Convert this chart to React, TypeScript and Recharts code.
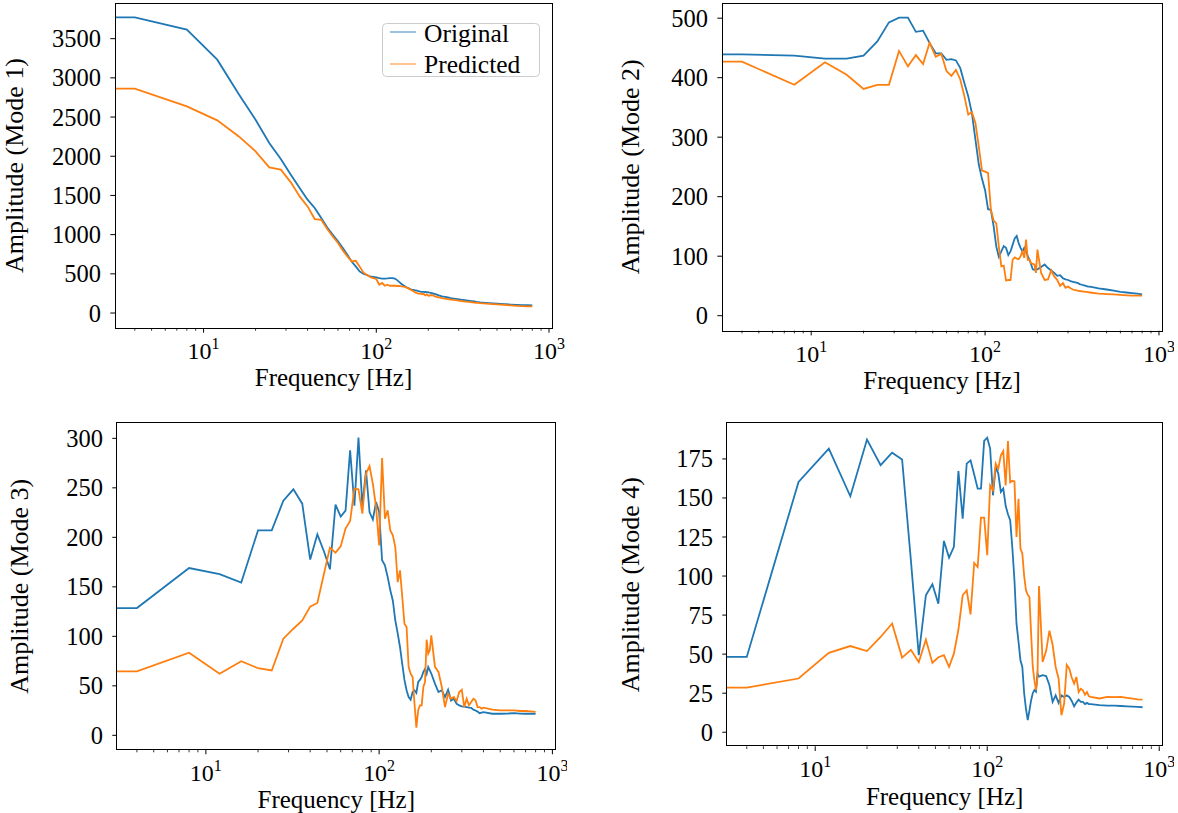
import { LineChart, Line, XAxis, YAxis, Legend, Label } from "recharts";

// frequency bins (Hz)
const FREQ = [
  4, 8, 12, 16, 20, 24, 28, 32, 36, 40, 44, 48, 52, 56, 60, 64, 68, 72, 76, 80,
  84, 88, 92, 96, 100, 104, 108, 112, 116, 120, 124, 128, 132, 136, 140, 144,
  148, 152, 156, 160, 164, 168, 172, 176, 180, 184, 188, 192, 196, 200,
  210, 220, 230, 240, 250, 260, 270, 280, 290, 300, 310, 320, 330, 340, 350,
  360, 370, 380, 390, 400,
  450, 500, 550, 600, 650, 700, 750, 800,
];

const MODE1_ORIG = [
  3772, 3615, 3232, 2790, 2465, 2169, 1965, 1765, 1595, 1446, 1340, 1212, 1092, 999, 914, 829, 744, 658, 595, 531,
  501, 485, 467, 460, 454, 445, 438, 440, 442, 445, 446, 439, 420, 395, 370, 350,
  335, 320, 310, 300, 295, 290, 285, 278, 272, 270, 270, 268, 266, 263,
  255, 240, 225, 212, 205, 198, 190, 185, 180, 175, 170, 166, 162, 158, 154,
  150, 147, 143, 140, 137,
  127, 119, 113, 108, 104, 101, 99, 97,
];
const MODE1_PRED = [
  2862, 2636, 2458, 2253, 2062, 1858, 1829, 1667, 1488, 1360, 1199, 1190, 1072, 977, 893, 799, 722, 658, 667, 595,
  518, 489, 459, 446, 434, 361, 383, 348, 361, 348, 350, 348, 345, 345, 340, 338,
  330, 318, 305, 290, 280, 262, 255, 245, 250, 238, 245, 225, 238, 221,
  230, 210, 200, 191, 185, 178, 172, 167, 164, 157, 153, 150, 146, 143, 140,
  137, 134, 131, 129, 126,
  117, 110, 103, 97, 92, 89, 86, 84,
];

const MODE2_ORIG = [
  439, 437, 432, 432, 437, 461, 493, 501, 501, 477, 479, 458, 441, 441, 430, 431, 429, 416, 391, 369,
  340, 296, 254, 230, 211, 179, 178, 150, 116, 99, 108, 117, 114, 102, 108, 119,
  130, 134, 122, 114, 108, 114, 108, 100, 94, 86, 78, 77, 78, 78,
  82, 86, 80, 76, 72, 67, 68, 63, 61, 60, 58, 57, 56, 55, 53,
  52, 51, 50, 49, 49,
  46, 44, 42, 40, 39, 38, 37, 36,
];
const MODE2_PRED = [
  427, 388, 426, 405, 381, 388, 388, 445, 419, 438, 423, 459, 435, 440, 411, 403, 413, 397, 369, 338,
  342, 324, 284, 244, 242, 240, 178, 160, 155, 116, 83, 84, 59, 60, 60, 94,
  98, 96, 95, 100, 108, 97, 128, 94, 94, 88, 87, 86, 72, 111,
  72, 60, 61, 76, 66, 60, 50, 55, 47, 49, 46, 44, 43, 42, 41.5,
  41, 40.5, 40, 39.5, 39,
  37, 36.4, 35.8, 35, 34.3, 33.6, 33.6, 33.6,
];

const MODE3_ORIG = [
  128.6, 169, 162.8, 154.4, 207, 207, 237, 248.5, 234, 177.5, 203, 186, 167.7, 233, 221, 227, 288, 232, 300.7, 232,
  267.7, 225.6, 218, 235.7, 225.6, 176.8, 171.7, 160, 146.5, 136, 116, 103, 89, 72, 56, 45.5,
  38.7, 36, 43.8, 45.5, 42.8, 54, 56, 59, 64, 67, 62, 69, 65.7, 62.4,
  52.3, 43.8, 45.5, 38.7, 46, 35.2, 37, 31.9, 30.2, 29.2, 29, 28.5, 28, 27.8, 26,
  25.1, 24, 22.4, 23, 23.5,
  21.8, 21.8, 22, 22.4, 22, 21.8, 21.8, 21.8,
];
const MODE3_PRED = [
  64.6, 83.5, 62.3, 74.9, 67.8, 65.5, 97.6, 107.7, 116, 130, 133.7, 163, 189.6, 184.5, 190.9, 208.8, 216.5, 249.2, 248.5, 224,
  264.3, 272, 254, 230.6, 191.9, 280, 218.9, 227.3, 207, 202, 190, 154.8, 166.7, 139.7, 112.8, 109.4,
  69, 62.3, 59, 32, 7.7, 25.3, 30.3, 30.3, 48.8, 53.9, 96.6, 82.5, 85.9, 101,
  69.2, 64, 48.8, 28.6, 42, 37, 38.7, 34.7, 43.8, 46, 28.6, 37, 30.3, 33.7, 37,
  35.4, 28.6, 28.6, 27, 28,
  26, 25.3, 25.3, 25.3, 24.6, 24.6, 24.2, 23.6,
];

const MODE4_ORIG = [
  48.2, 160.3, 181.6, 151.1, 187.4, 171, 179, 174.6, 110, 49.3, 87.7, 94.8, 82.3, 122.5, 111.8, 118.7, 167.3, 136.8, 172, 174.1,
  165, 156, 156, 186.5, 188.6, 181.6, 151.7, 169.9, 165.6, 153.9, 156, 145, 139.6, 135.8, 118, 97.3,
  69.5, 58, 46.1, 41.8, 24.8, 15, 7.7, 14, 20.5, 25, 27, 26, 37.7, 35.6,
  36.6, 36, 30.1, 19.4, 23.6, 18.8, 23.6, 22.6, 23.6, 22.6, 20, 16.6, 19, 20.9, 19.5,
  19.4, 18, 18.8, 18, 18,
  17.3, 17, 17, 16.8, 16.6, 16.4, 16.2, 16,
];
const MODE4_PRED = [
  28.6, 34.4, 50.8, 55.2, 52, 61, 69.6, 47.8, 52.8, 44.9, 59.3, 44.4, 48, 49.3, 41.8, 50.3, 65.6, 87.7, 90.9, 75.5,
  108.4, 105.8, 137.4, 137.4, 113.4, 158.1, 155, 172, 168.8, 177.3, 180, 158, 186.5, 160, 161, 160.6,
  125, 149.5, 117.6, 114.4, 100, 90.9, 88, 86.6, 63, 41.8, 33.3, 27, 35, 93.6,
  45, 52, 65, 56, 41.8, 34.4, 10.9, 18.4, 43.1, 40.7, 35, 31.1, 35.4, 25.8, 27.9,
  26.9, 24, 25.8, 23, 22.6,
  21.6, 22.6, 22.5, 22.6, 22, 21.5, 21, 20.9,
];

const X_MIN = 3.07;
const X_MAX = 1042;
const X_TICKS = [4, 5, 6, 7, 8, 9, 10, 20, 30, 40, 50, 60, 70, 80, 90, 100, 200, 300, 400, 500, 600, 700, 800, 900, 1000];
const X_MAJOR = [10, 100, 1000];

const FONT = '"Liberation Serif", "Times New Roman", serif';
const BLUE = "#1f77b4";
const ORANGE = "#ff7f0e";

const PAD_L = 118;
const PAD_T = 4;
const PAD_R = 12;
const PAD_B = 70;

function buildRows(orig: number[], pred: number[]) {
  const rows = FREQ.map((f, i) => ({ f, orig: orig[i], pred: pred[i] }));
  // the 0 Hz bin lands at -inf on a log axis, so the trace runs flat to the spine
  return [{ f: X_MIN, orig: orig[0], pred: pred[0] }, ...rows];
}

const XTick = (props: any) => {
  const { x, y, payload } = props;
  const major = X_MAJOR.includes(payload.value);
  return (
    <g>
      <line x1={x} x2={x} y1={y} y2={y + (major ? 4.7 : 2.7)} stroke="#000" strokeWidth={major ? 1 : 0.8} />
      {major && (
        <text x={x} y={y + 31} textAnchor="middle" fontFamily={FONT} fontSize={24} fill="#000">
          10
          <tspan dy={-10} fontSize={16}>
            {Math.round(Math.log10(payload.value))}
          </tspan>
        </text>
      )}
    </g>
  );
};

const YTick = (props: any) => {
  const { x, y, payload } = props;
  return (
    <g>
      <line x1={x} x2={x - 4.7} y1={y} y2={y} stroke="#000" strokeWidth={1} />
      <text x={x - 14} y={y + 8.5} textAnchor="end" fontFamily={FONT} fontSize={24.5} fill="#000">
        {payload.value}
      </text>
    </g>
  );
};

// legend svg is padded so glyph boxes stay inside it
const LEG_PAD_X = 6;
const LEG_PAD_Y = 10;

const LegendBox = (props: any) => {
  const items = props.payload || [];
  return (
    <svg width={158 + 2 * LEG_PAD_X} height={54 + 2 * LEG_PAD_Y} style={{ display: "block", overflow: "visible" }}>
      <g transform={`translate(${LEG_PAD_X}, ${LEG_PAD_Y})`}>
        <rect x={0.5} y={0.5} width={157} height={53} rx={4} fill="#fff" fillOpacity={0.8} stroke="#cccccc" />
        {items.map((it: any, i: number) => (
          <g key={it.value}>
            <line x1={8} x2={34} y1={9 + i * 32} y2={9 + i * 32} stroke={it.color} strokeWidth={1.5} strokeOpacity={0.6} />
            <text x={42} y={18.5 + i * 31} fontFamily={FONT} fontSize={25.5} fill="#000">
              {it.value}
            </text>
          </g>
        ))}
      </g>
    </svg>
  );
};

type PanelProps = {
  x: number;
  y: number;
  w: number;
  h: number;
  yDomain: [number, number];
  yTicks: number[];
  yLabel: string;
  yLabelGap: number;
  orig: number[];
  pred: number[];
  legend?: boolean;
};

function Panel({ x, y, w, h, yDomain, yTicks, yLabel, yLabelGap, orig, pred, legend }: PanelProps) {
  const data = buildRows(orig, pred);
  const left = x - PAD_L;
  const top = y - PAD_T;
  return (
    <div style={{ position: "absolute", left, top }}>
      <LineChart
        width={w + PAD_L + PAD_R}
        height={h + PAD_T + PAD_B}
        data={data}
        margin={{ top: PAD_T, right: PAD_R, bottom: 0, left: 0 }}
      >
        <XAxis
          dataKey="f"
          type="number"
          scale="log"
          domain={[X_MIN, X_MAX]}
          allowDataOverflow
          ticks={X_TICKS}
          interval={0}
          tick={XTick}
          tickSize={0}
          tickMargin={0}
          tickLine={false}
          axisLine={false}
          height={PAD_B}
        >
          <Label
            content={(p: any) => (
              <text
                x={p.viewBox.x + p.viewBox.width / 2}
                y={p.viewBox.y + 58.5}
                textAnchor="middle"
                fontFamily={FONT}
                fontSize={25}
                fill="#000"
              >
                Frequency [Hz]
              </text>
            )}
          />
        </XAxis>
        <YAxis
          type="number"
          domain={yDomain}
          allowDataOverflow
          ticks={yTicks}
          interval={0}
          tick={YTick}
          tickSize={0}
          tickMargin={0}
          tickLine={false}
          axisLine={false}
          width={PAD_L}
        >
          <Label
            content={(p: any) => {
              const lx = p.viewBox.x + p.viewBox.width - yLabelGap;
              const ly = p.viewBox.y + p.viewBox.height / 2;
              return (
                <text
                  x={lx}
                  y={ly}
                  transform={`rotate(-90, ${lx}, ${ly})`}
                  textAnchor="middle"
                  fontFamily={FONT}
                  fontSize={26}
                  fill="#000"
                >
                  {yLabel}
                </text>
              );
            }}
          />
        </YAxis>
        {legend && (
          <Legend
            layout="vertical"
            align="center"
            verticalAlign="middle"
            wrapperStyle={{
              left: 381.7 - LEG_PAD_X - left,
              top: 22.5 - LEG_PAD_Y - top,
              width: 158 + 2 * LEG_PAD_X,
              height: 54 + 2 * LEG_PAD_Y,
            }}
            content={LegendBox}
          />
        )}
        <Line
          type="linear"
          dataKey="orig"
          name="Original"
          stroke={BLUE}
          strokeWidth={1.8}
          dot={false}
          activeDot={false}
          isAnimationActive={false}
        />
        <Line
          type="linear"
          dataKey="pred"
          name="Predicted"
          stroke={ORANGE}
          strokeWidth={1.8}
          dot={false}
          activeDot={false}
          isAnimationActive={false}
        />
      </LineChart>
      <div
        style={{
          position: "absolute",
          left: PAD_L - 0.5,
          top: PAD_T - 0.5,
          width: w + 1,
          height: h + 1,
          border: "1px solid #000",
          boxSizing: "border-box",
          pointerEvents: "none",
        }}
      />
    </div>
  );
}

export default function App() {
  return (
    <div style={{ position: "absolute", left: 0, top: 0, width: 1178, height: 813, background: "#fff", overflow: "hidden" }}>
      <Panel
        x={115.4}
        y={3.3}
        w={437.1}
        h={325}
        yDomain={[-191, 3955]}
        yTicks={[0, 500, 1000, 1500, 2000, 2500, 3000, 3500]}
        yLabel="Amplitude (Mode 1)"
        yLabelGap={92}
        orig={MODE1_ORIG}
        pred={MODE1_PRED}
        legend
      />
      <Panel
        x={722}
        y={3.3}
        w={440.1}
        h={327.7}
        yDomain={[-25.2, 525.5]}
        yTicks={[0, 100, 200, 300, 400, 500]}
        yLabel="Amplitude (Mode 2)"
        yLabelGap={83}
        orig={MODE2_ORIG}
        pred={MODE2_PRED}
      />
      <Panel
        x={116.5}
        y={422.7}
        w={438.5}
        h={326.6}
        yDomain={[-14.4, 315.5]}
        yTicks={[0, 50, 100, 150, 200, 250, 300]}
        yLabel="Amplitude (Mode 3)"
        yLabelGap={89}
        orig={MODE3_ORIG}
        pred={MODE3_PRED}
      />
      <Panel
        x={726.8}
        y={422.7}
        w={435.3}
        h={323.3}
        yDomain={[-9, 198]}
        yTicks={[0, 25, 50, 75, 100, 125, 150, 175]}
        yLabel="Amplitude (Mode 4)"
        yLabelGap={88}
        orig={MODE4_ORIG}
        pred={MODE4_PRED}
      />
    </div>
  );
}
